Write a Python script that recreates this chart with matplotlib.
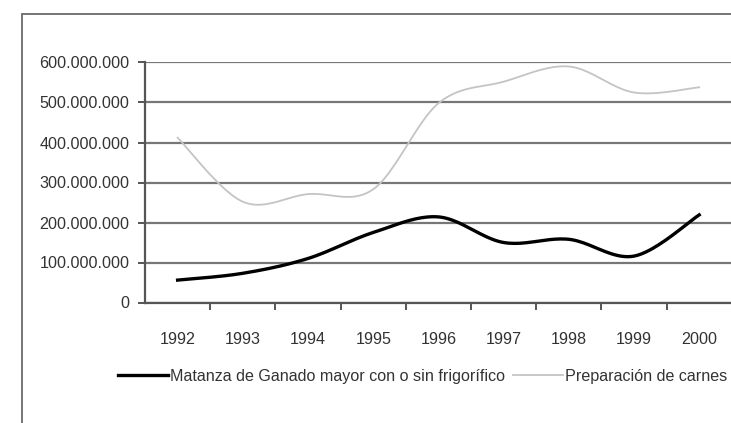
import matplotlib
matplotlib.use("Agg")
import matplotlib.pyplot as plt
from matplotlib.patches import Rectangle
from matplotlib.lines import Line2D
from matplotlib.ticker import FuncFormatter
import numpy as np

# ======= DATOS ==========
anios = ["1992", "1993", "1994", "1995", "1996", "1997", "1998", "1999", "2000"]
matanza = [56e6, 73e6, 110e6, 175e6, 214e6, 150e6, 158e6, 116e6, 219e6]
preparacion = [412e6, 252e6, 271e6, 283e6, 498e6, 552e6, 590e6, 525e6, 538e6]
y_ticks = [0, 100e6, 200e6, 300e6, 400e6, 500e6, 600e6]
nombre_matanza = "Matanza de Ganado mayor con o sin frigorífico"
nombre_preparacion = "Preparación de carnes"
# ================================

plt.rcParams["font.family"] = ["Liberation Sans", "DejaVu Sans"]
FS = 11.6


def suavizar(x, y, pasos=24):
    # curva suavizada tipo Excel (Bezier con tangentes Catmull-Rom)
    x = np.asarray(x, float)
    y = np.asarray(y, float)
    px = np.concatenate([[x[0]], x, [x[-1]]])
    py = np.concatenate([[y[0]], y, [y[-1]]])
    xs, ys = [], []
    t = np.linspace(0, 1, pasos)
    for i in range(1, len(px) - 2):
        p0 = np.array([px[i], py[i]])
        p3 = np.array([px[i + 1], py[i + 1]])
        c1 = p0 + (np.array([px[i + 1], py[i + 1]]) - np.array([px[i - 1], py[i - 1]])) / 6
        c2 = p3 - (np.array([px[i + 2], py[i + 2]]) - np.array([px[i], py[i]])) / 6
        b = ((1 - t) ** 3)[:, None] * p0 + (3 * (1 - t) ** 2 * t)[:, None] * c1 \
            + (3 * (1 - t) * t ** 2)[:, None] * c2 + (t ** 3)[:, None] * p3
        xs.extend(b[:, 0])
        ys.extend(b[:, 1])
    return xs, ys


W, H = 731, 423
fig = plt.figure(figsize=(W / 100, H / 100), dpi=100)

# marco exterior del gráfico (recortado a la derecha y abajo)
fig.add_artist(Rectangle((21.7 / W, -0.1), 1.2, (H - 14) / H + 0.1,
                         transform=fig.transFigure, fill=False,
                         edgecolor="#6a6a6a", linewidth=1.3))

x0, x1 = 145, 731.8
y0, y1 = 302.5, 62.5
ax = fig.add_axes([x0 / W, 1 - y0 / H, (x1 - x0) / W, (y0 - y1) / H])

pos = np.arange(len(anios))
xs, ys = suavizar(pos, preparacion)
ax.plot(xs, ys, color="#c4c4c4", linewidth=1.3, zorder=3)
xs, ys = suavizar(pos, matanza)
ax.plot(xs, ys, color="black", linewidth=2.4, zorder=4)

ax.set_xlim(-0.5, len(anios) - 0.5)
ax.set_ylim(0, 600e6)
ax.set_yticks(y_ticks)
ax.yaxis.set_major_formatter(FuncFormatter(lambda v, p: f"{int(v):,}".replace(",", ".")))
ax.set_xticks(pos)
ax.set_xticklabels(anios)
ax.set_xticks(np.arange(len(anios)) + 0.5, minor=True)

ax.grid(axis="y", color="#777777", linewidth=1.6, zorder=1)
ax.set_axisbelow(True)
for lado in ["top", "right"]:
    ax.spines[lado].set_visible(False)
for lado in ["left", "bottom"]:
    ax.spines[lado].set_color("#555555")
    ax.spines[lado].set_linewidth(1.6)

ax.tick_params(axis="y", direction="out", length=5, width=1.4, color="#555555",
               pad=6.0, labelsize=FS, labelcolor="#333333")
ax.tick_params(axis="x", which="major", length=0, pad=21.5, labelsize=FS, labelcolor="#333333")
ax.tick_params(axis="x", which="minor", direction="out", length=5, width=1.4, color="#555555")

manijas = [Line2D([], [], color="black", linewidth=2.4),
           Line2D([], [], color="#c4c4c4", linewidth=1.3)]
fig.legend(manijas, [nombre_matanza, nombre_preparacion], ncol=2, frameon=False,
           loc="center left", bbox_to_anchor=(118 / W, 1 - 376 / H),
           borderpad=0, borderaxespad=0, handlelength=3.1, handletextpad=0.12,
           columnspacing=0.5, fontsize=FS, labelcolor="#333333")

fig.savefig("out.png", dpi=100)
plt.close(fig)
print("out.png is saved")
